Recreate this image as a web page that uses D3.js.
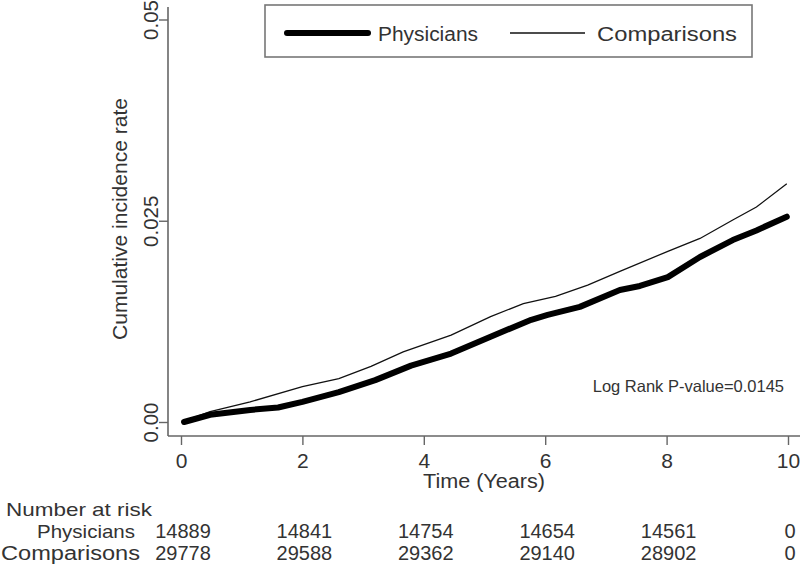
<!DOCTYPE html>
<html><head><meta charset="utf-8">
<script src="https://cdn.jsdelivr.net/npm/d3@7"></script>
<style>
body{margin:0;background:#fff;}
svg{font-family:"Liberation Sans",Arial,sans-serif;}
</style></head>
<body><svg id="c" width="800" height="570"></svg>
<script>
// ---- data ----
const physT = [0.05,0.48,1.14,1.6,2.0,2.6,3.2,3.79,4.45,5.1,5.77,6.04,6.57,7.23,7.56,8.02,8.55,9.09,9.48,9.98];
const physV = [0.0000,0.0009,0.0015,0.0018,0.0025,0.0037,0.0052,0.0070,0.0085,0.0106,0.0127,0.0133,0.0143,0.0164,0.0169,0.0180,0.0205,0.0226,0.0238,0.0255];
const compT = [0.05,0.48,1.14,2.0,2.6,3.13,3.66,4.45,5.1,5.64,6.17,6.7,7.23,8.02,8.55,9.09,9.48,9.98];
const compV = [0.0001,0.0013,0.0025,0.0044,0.0054,0.0069,0.0087,0.0108,0.0131,0.0147,0.0156,0.0170,0.0187,0.0212,0.0228,0.0251,0.0267,0.0296];
const xTicks = [0,2,4,6,8,10];
const yTicks = [0,0.025,0.05];
const yTickLabels = ["0.00","0.025","0.05"];
const riskPhys = [14889,14841,14754,14654,14561,0];
const riskComp = [29778,29588,29362,29140,28902,0];
const seriesNames = ["Physicians","Comparisons"];
const pText = "Log Rank P-value=0.0145";

// ---- scales ----
const svg = d3.select("#c");
const x = d3.scaleLinear().domain([0,10]).range([181,788]);
const y = d3.scaleLinear().domain([0,0.05]).range([422,19.5]);
const axisCol = "#666", txt = "#333";

// axes
svg.append("line").attr("x1",168).attr("x2",168).attr("y1",7).attr("y2",436)
  .attr("stroke",axisCol).attr("stroke-width",1.6);
svg.append("line").attr("x1",168).attr("x2",800).attr("y1",436).attr("y2",436)
  .attr("stroke",axisCol).attr("stroke-width",1.6);

const yAx = svg.append("g").attr("transform","translate(168,0)")
  .call(d3.axisLeft(y).tickValues(yTicks).tickSize(9)
    .tickFormat(d=>yTickLabels[yTicks.indexOf(d)]));
yAx.select(".domain").remove();
yAx.selectAll("line").attr("stroke",axisCol).attr("stroke-width",1.4);
yAx.selectAll("text").attr("fill",txt).attr("font-size",20.5)
  .attr("x",0).attr("y",0).attr("dy",0).attr("text-anchor","middle")
  .attr("transform","translate(-10,0) rotate(-90)");

const xAx = svg.append("g").attr("transform","translate(0,436)")
  .call(d3.axisBottom(x).tickValues(xTicks).tickSize(9).tickFormat(d3.format("d")));
xAx.select(".domain").remove();
xAx.selectAll("line").attr("stroke",axisCol).attr("stroke-width",1.4);
xAx.selectAll("text").attr("fill",txt).attr("font-size",21).attr("y",32).attr("dy",0);

// axis titles
svg.append("text").attr("transform","translate(127,219) rotate(-90)")
  .attr("text-anchor","middle").attr("font-size",20.5).attr("fill",txt)
  .attr("textLength",242).attr("lengthAdjust","spacingAndGlyphs")
  .text("Cumulative incidence rate");
svg.append("text").attr("x",484).attr("y",488).attr("text-anchor","middle")
  .attr("font-size",20).attr("fill",txt)
  .attr("textLength",122).attr("lengthAdjust","spacingAndGlyphs")
  .text("Time (Years)");

// curves
const line = d3.line().x(d=>x(d[0])).y(d=>y(d[1]));
const physData = physT.map((t,i)=>[t,physV[i]]);
const compData = compT.map((t,i)=>[t,compV[i]]);
svg.append("path").datum(compData).attr("d",line).attr("fill","none")
  .attr("stroke","#111").attr("stroke-width",1.3);
svg.append("path").datum(physData).attr("d",line).attr("fill","none")
  .attr("stroke","#000").attr("stroke-width",6).attr("stroke-linecap","round").attr("stroke-linejoin","round");

// p-value
svg.append("text").attr("x",784).attr("y",392).attr("text-anchor","end")
  .attr("font-size",16.5).attr("fill",txt).text(pText);

// legend
svg.append("rect").attr("x",265).attr("y",5).attr("width",487).attr("height",52)
  .attr("fill","#fff").attr("stroke","#777").attr("stroke-width",1.6);
svg.append("line").attr("x1",287).attr("x2",368).attr("y1",33).attr("y2",33)
  .attr("stroke","#000").attr("stroke-width",6).attr("stroke-linecap","round");
svg.append("text").attr("x",378).attr("y",41).attr("font-size",20).attr("fill",txt)
  .attr("textLength",100).attr("lengthAdjust","spacingAndGlyphs").text(seriesNames[0]);
svg.append("line").attr("x1",510).attr("x2",585).attr("y1",33).attr("y2",33)
  .attr("stroke","#111").attr("stroke-width",1.3);
svg.append("text").attr("x",597).attr("y",41).attr("font-size",20).attr("fill",txt)
  .attr("textLength",140).attr("lengthAdjust","spacingAndGlyphs").text(seriesNames[1]);

// number at risk table
svg.append("text").attr("x",6).attr("y",516).attr("font-size",19).attr("fill",txt)
  .attr("textLength",146).attr("lengthAdjust","spacingAndGlyphs").text("Number at risk");
svg.append("text").attr("x",37).attr("y",538).attr("font-size",19).attr("fill",txt)
  .attr("textLength",98).attr("lengthAdjust","spacingAndGlyphs").text(seriesNames[0]);
svg.append("text").attr("x",1).attr("y",560).attr("font-size",20).attr("fill",txt)
  .attr("textLength",139).attr("lengthAdjust","spacingAndGlyphs").text(seriesNames[1]);
svg.selectAll("text.rp").data(riskPhys).join("text").attr("class","rp")
  .attr("x",(d,i)=>x(xTicks[i])+2).attr("y",538).attr("text-anchor","middle")
  .attr("font-size",20).attr("fill",txt).text(d=>d);
svg.selectAll("text.rc").data(riskComp).join("text").attr("class","rc")
  .attr("x",(d,i)=>x(xTicks[i])+2).attr("y",560).attr("text-anchor","middle")
  .attr("font-size",20).attr("fill",txt).text(d=>d);
</script></body></html>
